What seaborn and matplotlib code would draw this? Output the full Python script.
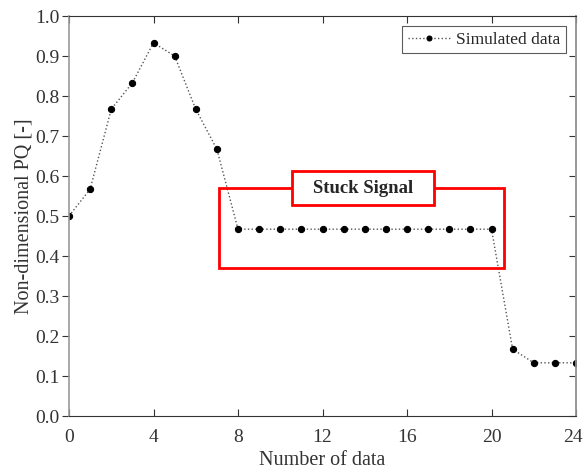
import matplotlib
matplotlib.use("Agg")
import matplotlib.pyplot as plt
import matplotlib.transforms as mtransforms
import seaborn as sns
import pandas as pd
from matplotlib.patches import Rectangle

x_vals = list(range(25))
pq_vals = [0.5, 0.567, 0.767, 0.833, 0.933, 0.9, 0.767, 0.667,
           0.467, 0.467, 0.467, 0.467, 0.467, 0.467, 0.467, 0.467,
           0.467, 0.467, 0.467, 0.467, 0.467,
           0.167, 0.133, 0.133, 0.133]
x_ticks = [0, 4, 8, 12, 16, 20, 24]
y_ticks = [0.0, 0.1, 0.2, 0.3, 0.4, 0.5, 0.6, 0.7, 0.8, 0.9, 1.0]

sns.set_theme(style="white")
plt.rcParams['font.family'] = ['Liberation Serif', 'DejaVu Serif']

df = pd.DataFrame({"n": x_vals, "pq": pq_vals})

fig = plt.figure(figsize=(5.84, 4.69), dpi=100)
ax = fig.add_axes([69/584, 53/469, 507/584, 400/469])

sns.lineplot(data=df, x="n", y="pq", ax=ax, color="#555555", linestyle=":",
             linewidth=1.0, marker="o", markersize=4.5,
             markerfacecolor="black", markeredgecolor="black",
             label="Simulated data")

ax.set_xlim(0, 24)
ax.set_ylim(0, 1.0)
ax.set_xticks(x_ticks)
ax.set_xticklabels([str(t) for t in x_ticks])
ax.set_yticks(y_ticks)
ax.set_yticklabels([f"{t:.1f}" for t in y_ticks])
ax.set_xlabel("Number of data", fontsize=14.5, color="#333333", labelpad=4)
ax.set_ylabel("Non-dimensional PQ [-]", fontsize=14.5, color="#333333", labelpad=1)

ax.tick_params(axis='x', direction='in', top=True, bottom=True, length=5,
               width=0.8, colors="#333333", labelsize=14, pad=9)
ax.tick_params(axis='y', direction='out', left=True, right=False, length=5,
               width=0.8, colors="#333333", labelsize=14, pad=2)
# keep last x tick label inside the canvas
last_lbl = ax.get_xticklabels()[-1]
last_lbl.set_transform(last_lbl.get_transform() +
                       mtransforms.ScaledTranslation(-3/100, 0, fig.dpi_scale_trans))

sec = ax.secondary_yaxis('right')
sec.set_yticks(y_ticks)
sec.tick_params(direction='in', length=5, width=0.8, colors="#333333", labelright=False)
sec.spines['right'].set_color("#999999")
sec.spines['right'].set_linewidth(1.2)

for s in ['top', 'bottom']:
    ax.spines[s].set_color("#333333")
    ax.spines[s].set_linewidth(0.8)
ax.spines['left'].set_color("#999999")
ax.spines['left'].set_linewidth(1.2)
ax.spines['right'].set_color("#999999")
ax.spines['right'].set_linewidth(1.2)

# red box around stuck signal
ax.add_patch(Rectangle((7.1, 0.37), 13.49, 0.2, fill=False, edgecolor="red",
                       linewidth=2, zorder=5))
ax.add_patch(Rectangle((10.56, 0.5275), 6.72, 0.085, facecolor="white",
                       edgecolor="red", linewidth=2, zorder=6))
ax.text(13.92, 0.57, "Stuck Signal", fontsize=13.5, fontweight="bold",
        ha="center", va="center", zorder=7)

leg = ax.legend(loc="upper right", fontsize=12.5, frameon=True, fancybox=False,
                borderaxespad=0.6, handlelength=2.5, borderpad=0.3,
                handletextpad=0.3, markerscale=0.8)
leg.get_frame().set_edgecolor("#333333")
leg.get_frame().set_linewidth(0.8)

fig.savefig("out.png", dpi=100)
